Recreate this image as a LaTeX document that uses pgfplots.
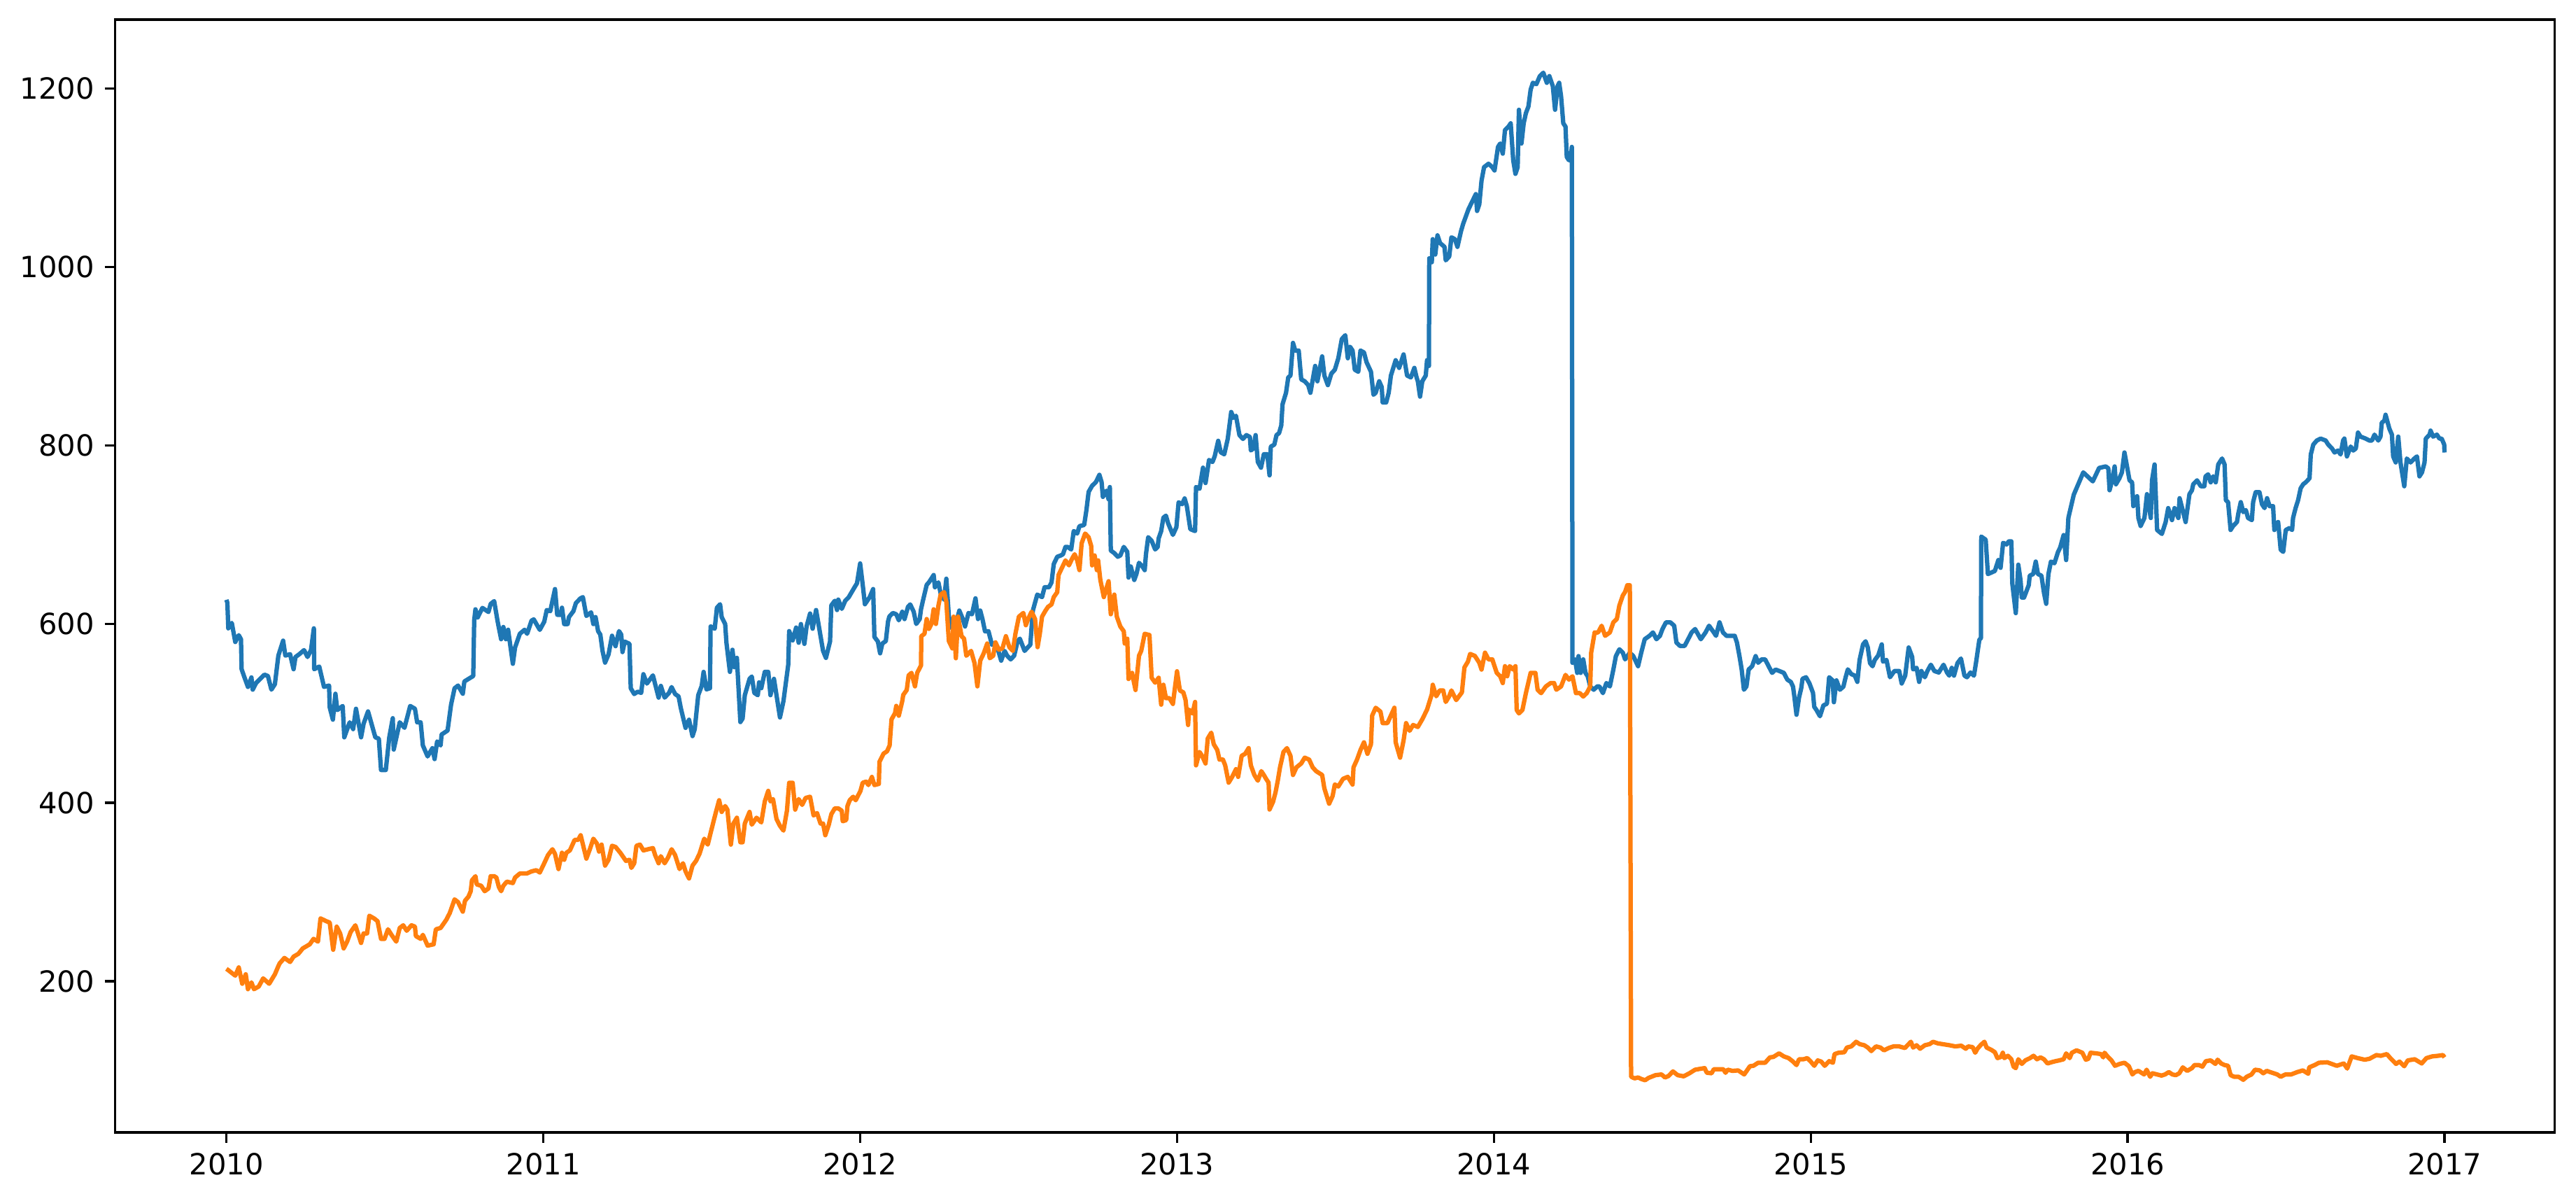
\documentclass[border=0pt]{standalone}
\usepackage{fontspec}
\setmainfont{DejaVu Sans}
\usepackage{pgfplots}
\pgfplotsset{compat=1.18}
\definecolor{tabblue}{HTML}{1F77B4}
\definecolor{taborange}{HTML}{FF7F0E}
\begin{document}
\begin{tikzpicture}
\begin{axis}[
  name=ax,
  scale only axis,
  width=836.8pt, height=381.6pt,
  xmin=2009.648, xmax=2017.347,
  ymin=30.5, ymax=1277.4,
  xtick={2010,2011,2012,2013,2014,2015,2016,2017},
  ytick={200,400,600,800,1000,1200},
  xticklabel style={/pgf/number format/1000 sep={}},
  yticklabel style={/pgf/number format/1000 sep={}},
  /pgf/number format/assume math mode=true,
  tick label style={font=\fontsize{10}{12}\selectfont, black},
  tick align=outside,
  xtick pos=bottom, ytick pos=left,
  major tick length=3.5pt,
  every tick/.style={black, line width=0.8pt},
  axis line style={black, line width=0.8pt},
  xticklabel shift=0pt, yticklabel shift=0pt,
  clip=true,
]
\addplot[color=tabblue, line width=1.5pt, line join=round] table {
2010.000 627.3
2010.003 624.0
2010.006 595.3
2010.017 601.4
2010.028 580.0
2010.039 587.6
2010.046 583.1
2010.048 549.5
2010.057 540.3
2010.068 529.7
2010.079 540.3
2010.083 526.6
2010.094 534.2
2010.120 543.4
2010.131 541.9
2010.142 526.6
2010.153 532.7
2010.164 564.8
2010.179 581.5
2010.186 564.8
2010.201 566.3
2010.212 549.5
2010.218 563.2
2010.230 566.3
2010.245 570.9
2010.256 563.2
2010.267 570.9
2010.276 595.3
2010.277 549.5
2010.293 552.5
2010.308 529.7
2010.324 531.2
2010.326 506.8
2010.336 493.0
2010.344 522.0
2010.350 503.7
2010.367 508.3
2010.372 473.2
2010.389 490.0
2010.400 482.4
2010.409 505.2
2010.425 473.2
2010.433 488.5
2010.447 502.2
2010.470 473.2
2010.481 471.7
2010.488 436.6
2010.503 436.6
2010.514 473.2
2010.525 494.6
2010.528 459.5
2010.547 490.0
2010.562 483.9
2010.580 508.3
2010.595 505.2
2010.602 490.0
2010.613 490.0
2010.620 464.1
2010.635 451.8
2010.650 461.0
2010.657 448.8
2010.665 468.6
2010.676 464.1
2010.679 476.3
2010.698 480.8
2010.709 509.8
2010.720 528.1
2010.731 531.2
2010.746 522.0
2010.751 535.8
2010.779 541.9
2010.782 604.4
2010.786 616.6
2010.793 607.5
2010.808 618.2
2010.827 613.6
2010.834 622.7
2010.845 625.8
2010.856 602.9
2010.867 583.1
2010.874 596.8
2010.882 583.1
2010.889 593.7
2010.904 555.6
2010.911 573.9
2010.926 589.2
2010.941 593.7
2010.949 589.2
2010.963 604.0
2010.970 605.3
2010.989 593.6
2011.003 602.7
2011.011 615.8
2011.022 614.5
2011.037 639.3
2011.044 610.5
2011.055 610.5
2011.059 618.4
2011.066 600.1
2011.077 600.1
2011.081 607.9
2011.095 614.5
2011.103 623.6
2011.117 628.8
2011.125 630.2
2011.136 609.2
2011.151 613.2
2011.158 600.1
2011.165 607.9
2011.173 592.2
2011.180 588.3
2011.187 570.0
2011.195 556.9
2011.206 566.1
2011.217 587.0
2011.228 575.3
2011.239 592.2
2011.246 588.3
2011.250 568.7
2011.257 580.5
2011.272 577.9
2011.276 528.2
2011.287 521.7
2011.298 524.3
2011.309 523.0
2011.316 543.9
2011.327 533.4
2011.346 542.6
2011.364 517.7
2011.371 530.8
2011.383 517.7
2011.397 523.0
2011.405 529.5
2011.416 521.7
2011.427 519.0
2011.434 506.0
2011.449 483.8
2011.460 492.9
2011.471 474.6
2011.478 482.4
2011.489 520.4
2011.500 530.8
2011.506 546.5
2011.515 526.9
2011.526 528.2
2011.528 597.5
2011.541 594.9
2011.548 618.4
2011.558 622.3
2011.563 607.9
2011.574 600.1
2011.578 579.2
2011.589 546.5
2011.597 571.3
2011.603 551.7
2011.611 562.2
2011.622 490.3
2011.629 494.2
2011.636 520.4
2011.651 538.7
2011.658 541.3
2011.666 523.0
2011.677 520.4
2011.681 534.7
2011.688 528.2
2011.699 546.5
2011.710 546.5
2011.717 520.4
2011.728 538.7
2011.747 495.5
2011.758 513.8
2011.773 554.3
2011.776 592.2
2011.787 581.8
2011.798 596.2
2011.806 579.2
2011.813 600.1
2011.824 577.9
2011.831 597.5
2011.842 611.9
2011.850 594.9
2011.861 615.8
2011.883 570.0
2011.892 562.2
2011.905 580.5
2011.909 621.0
2011.920 626.2
2011.927 615.8
2011.931 627.5
2011.942 617.1
2011.953 626.2
2011.964 630.2
2011.979 639.3
2011.990 645.8
2012.000 668.0
2012.008 644.5
2012.015 622.3
2012.030 630.2
2012.041 639.3
2012.045 585.7
2012.056 580.5
2012.063 567.3
2012.070 578.3
2012.081 581.0
2012.088 602.9
2012.092 608.4
2012.103 612.5
2012.114 611.1
2012.122 604.3
2012.133 613.9
2012.140 605.7
2012.151 619.4
2012.158 622.1
2012.169 613.9
2012.177 600.2
2012.188 605.7
2012.192 616.6
2012.199 627.6
2012.210 644.0
2012.217 646.8
2012.232 655.0
2012.236 641.3
2012.247 646.8
2012.254 634.4
2012.265 627.6
2012.272 650.9
2012.280 608.4
2012.291 594.7
2012.302 600.2
2012.313 615.2
2012.324 605.7
2012.331 597.4
2012.342 612.5
2012.353 611.1
2012.364 628.9
2012.372 605.7
2012.379 615.2
2012.386 605.7
2012.394 592.0
2012.405 592.0
2012.416 576.9
2012.427 578.3
2012.434 572.8
2012.445 559.1
2012.456 570.0
2012.464 564.6
2012.475 560.5
2012.486 564.6
2012.497 581.0
2012.504 583.7
2012.519 570.0
2012.526 572.8
2012.537 576.9
2012.545 615.2
2012.559 633.1
2012.574 630.3
2012.582 641.3
2012.596 641.3
2012.604 646.8
2012.611 667.3
2012.622 675.5
2012.633 676.9
2012.640 678.3
2012.648 686.5
2012.655 686.5
2012.666 683.7
2012.674 704.3
2012.685 701.5
2012.692 709.8
2012.707 711.1
2012.714 727.6
2012.721 748.1
2012.732 755.0
2012.744 759.1
2012.755 767.3
2012.762 759.1
2012.766 742.6
2012.777 749.5
2012.784 739.9
2012.788 753.6
2012.791 682.4
2012.802 679.6
2012.813 675.5
2012.821 676.9
2012.832 686.5
2012.843 681.0
2012.847 652.2
2012.854 664.6
2012.865 649.5
2012.872 656.3
2012.880 668.7
2012.891 664.6
2012.898 660.5
2012.902 678.3
2012.909 697.4
2012.920 693.3
2012.931 683.7
2012.939 686.5
2012.942 696.1
2012.950 704.3
2012.957 719.3
2012.965 721.5
2012.972 712.9
2012.987 700.0
2012.998 708.6
2013.005 736.5
2013.016 734.4
2013.024 740.8
2013.031 732.2
2013.042 706.4
2013.057 704.3
2013.060 753.7
2013.071 751.6
2013.082 775.3
2013.090 758.1
2013.101 783.9
2013.112 781.7
2013.119 788.2
2013.130 805.4
2013.138 792.5
2013.149 790.3
2013.160 807.5
2013.171 837.7
2013.178 831.2
2013.186 833.4
2013.197 811.8
2013.208 807.5
2013.219 811.8
2013.230 809.7
2013.233 794.6
2013.241 796.8
2013.248 811.8
2013.255 781.7
2013.265 775.3
2013.274 790.3
2013.285 790.3
2013.292 766.7
2013.296 798.9
2013.307 801.1
2013.314 811.8
2013.322 814.0
2013.329 822.6
2013.333 846.3
2013.344 859.2
2013.351 876.4
2013.358 878.5
2013.366 915.1
2013.373 906.5
2013.384 906.5
2013.392 874.2
2013.403 872.1
2013.414 867.8
2013.421 859.2
2013.436 889.3
2013.443 872.1
2013.458 900.0
2013.465 878.5
2013.476 867.8
2013.487 880.7
2013.498 885.0
2013.509 897.9
2013.520 919.4
2013.531 923.7
2013.539 897.9
2013.546 910.8
2013.554 906.5
2013.561 885.0
2013.572 882.8
2013.579 906.5
2013.590 904.4
2013.598 893.6
2013.612 882.8
2013.620 857.0
2013.627 859.2
2013.638 872.1
2013.646 865.6
2013.649 848.4
2013.660 848.4
2013.668 859.2
2013.675 878.5
2013.690 895.7
2013.701 887.1
2013.715 902.2
2013.726 878.5
2013.738 876.4
2013.749 887.1
2013.756 876.4
2013.760 872.1
2013.767 854.9
2013.774 872.1
2013.785 878.5
2013.789 895.7
2013.795 889.3
2013.796 1009.8
2013.804 1005.5
2013.807 1031.3
2013.815 1014.1
2013.822 1035.6
2013.830 1027.0
2013.844 1022.7
2013.848 1007.6
2013.859 1011.9
2013.866 1033.4
2013.877 1031.3
2013.885 1022.7
2013.896 1039.9
2013.903 1048.5
2013.920 1065.0
2013.943 1081.8
2013.947 1062.9
2013.954 1070.5
2013.961 1096.9
2013.969 1112.0
2013.983 1115.8
2013.995 1112.0
2014.002 1108.3
2014.013 1134.7
2014.020 1138.5
2014.028 1127.1
2014.035 1153.6
2014.046 1157.4
2014.053 1161.1
2014.061 1119.6
2014.068 1104.5
2014.075 1112.0
2014.079 1176.3
2014.087 1138.5
2014.094 1161.1
2014.101 1172.5
2014.109 1180.0
2014.116 1198.9
2014.123 1206.5
2014.134 1205.0
2014.145 1214.0
2014.156 1217.8
2014.167 1206.5
2014.175 1214.0
2014.186 1202.7
2014.193 1176.3
2014.201 1202.7
2014.206 1206.5
2014.212 1191.4
2014.219 1161.1
2014.226 1157.4
2014.230 1123.4
2014.237 1119.6
2014.245 1130.9
2014.246 1134.7
2014.248 556.7
2014.256 560.5
2014.263 545.4
2014.267 564.2
2014.274 545.4
2014.282 560.5
2014.289 545.4
2014.296 541.6
2014.304 530.2
2014.315 526.5
2014.326 530.2
2014.333 530.2
2014.344 522.7
2014.355 534.0
2014.366 530.2
2014.377 549.1
2014.385 564.2
2014.396 571.8
2014.407 568.0
2014.414 560.5
2014.429 568.0
2014.440 564.2
2014.455 552.9
2014.465 568.0
2014.476 583.1
2014.491 586.9
2014.502 590.7
2014.513 583.1
2014.524 586.9
2014.532 594.5
2014.543 602.0
2014.557 602.0
2014.569 598.2
2014.576 579.4
2014.587 575.6
2014.602 575.6
2014.613 583.1
2014.624 590.7
2014.635 594.5
2014.653 583.1
2014.668 590.7
2014.679 598.2
2014.694 590.7
2014.701 586.9
2014.712 602.0
2014.723 590.7
2014.734 586.9
2014.745 586.9
2014.760 586.9
2014.767 579.4
2014.775 564.2
2014.782 549.1
2014.789 526.5
2014.797 530.2
2014.804 549.1
2014.815 552.9
2014.826 564.2
2014.834 556.7
2014.845 560.5
2014.856 560.5
2014.867 552.9
2014.878 545.4
2014.889 549.1
2014.900 547.6
2014.915 545.4
2014.926 537.8
2014.937 535.3
2014.944 530.0
2014.948 519.5
2014.955 498.5
2014.963 517.8
2014.970 528.3
2014.974 538.8
2014.985 540.5
2014.996 533.5
2015.007 523.0
2015.011 507.3
2015.018 503.8
2015.029 496.8
2015.040 509.0
2015.051 510.8
2015.058 540.5
2015.069 537.0
2015.073 512.5
2015.081 537.0
2015.092 526.5
2015.103 530.0
2015.110 540.5
2015.117 549.3
2015.128 544.0
2015.139 542.3
2015.147 535.3
2015.154 559.8
2015.165 577.3
2015.173 580.8
2015.180 573.8
2015.187 556.3
2015.195 552.8
2015.202 559.8
2015.213 565.0
2015.224 577.3
2015.228 558.0
2015.239 559.8
2015.250 540.5
2015.264 547.5
2015.279 547.5
2015.287 533.5
2015.298 542.3
2015.309 573.8
2015.320 563.3
2015.323 549.3
2015.334 551.0
2015.342 535.3
2015.349 547.5
2015.360 540.5
2015.368 547.5
2015.379 554.5
2015.390 547.5
2015.404 545.8
2015.419 554.5
2015.430 545.8
2015.437 542.3
2015.445 551.0
2015.452 542.3
2015.463 556.3
2015.474 561.5
2015.485 542.3
2015.493 540.5
2015.504 545.8
2015.515 542.3
2015.522 558.0
2015.532 582.5
2015.537 584.3
2015.538 698.1
2015.552 694.6
2015.559 656.1
2015.570 657.8
2015.581 659.6
2015.592 671.8
2015.599 663.1
2015.607 691.1
2015.618 689.3
2015.625 692.8
2015.633 692.8
2015.636 645.6
2015.647 612.3
2015.655 666.6
2015.662 649.1
2015.666 629.8
2015.673 629.8
2015.688 643.8
2015.691 654.3
2015.702 656.1
2015.710 670.1
2015.717 656.1
2015.728 654.3
2015.736 635.1
2015.743 622.8
2015.750 656.1
2015.758 670.1
2015.769 668.3
2015.780 680.6
2015.787 685.8
2015.798 699.8
2015.806 671.8
2015.813 719.1
2015.830 745.0
2015.860 770.0
2015.890 760.0
2015.910 775.0
2015.931 776.7
2015.939 774.5
2015.943 750.0
2015.951 761.1
2015.959 776.7
2015.963 756.7
2015.974 763.4
2015.982 770.1
2015.990 792.3
2015.998 776.7
2016.006 761.1
2016.014 758.9
2016.018 732.2
2016.030 743.3
2016.034 718.9
2016.041 710.0
2016.053 718.9
2016.061 745.6
2016.073 718.9
2016.077 761.1
2016.085 778.9
2016.093 705.5
2016.108 701.1
2016.120 714.4
2016.128 730.0
2016.140 716.6
2016.148 730.0
2016.160 718.9
2016.164 741.1
2016.172 730.0
2016.183 714.4
2016.195 745.6
2016.203 750.0
2016.207 756.7
2016.219 761.1
2016.231 754.5
2016.242 754.5
2016.246 765.6
2016.254 767.8
2016.262 758.9
2016.270 765.6
2016.278 758.9
2016.286 778.9
2016.298 785.6
2016.306 778.9
2016.310 738.9
2016.317 736.7
2016.325 705.5
2016.333 710.0
2016.345 714.4
2016.349 723.3
2016.357 736.7
2016.365 725.5
2016.373 727.8
2016.380 718.9
2016.392 716.6
2016.396 736.7
2016.404 747.8
2016.416 747.8
2016.424 734.4
2016.432 730.0
2016.440 741.1
2016.448 732.2
2016.459 732.2
2016.463 705.5
2016.475 714.4
2016.483 683.3
2016.491 681.0
2016.499 705.5
2016.511 707.7
2016.519 705.5
2016.522 718.9
2016.530 730.0
2016.538 738.9
2016.546 752.2
2016.554 756.7
2016.562 758.9
2016.574 763.4
2016.578 790.1
2016.586 801.2
2016.597 805.7
2016.609 807.9
2016.625 805.7
2016.633 801.2
2016.645 796.8
2016.653 792.3
2016.664 794.5
2016.672 790.1
2016.680 805.7
2016.684 807.9
2016.692 787.9
2016.704 799.0
2016.712 794.5
2016.720 796.8
2016.727 814.6
2016.735 810.1
2016.751 807.9
2016.763 805.7
2016.771 805.7
2016.779 812.3
2016.791 805.7
2016.798 810.1
2016.802 825.7
2016.810 827.9
2016.814 834.6
2016.826 819.0
2016.834 812.3
2016.838 787.9
2016.846 781.2
2016.854 810.1
2016.861 781.2
2016.873 754.5
2016.881 785.6
2016.893 781.2
2016.905 785.6
2016.913 787.9
2016.921 765.6
2016.929 770.1
2016.937 781.2
2016.941 807.9
2016.953 812.3
2016.956 816.8
2016.964 810.1
2016.976 812.3
2016.984 807.9
2016.991 807.9
2016.999 801.2
2017.000 792.3
};
\addplot[color=taborange, line width=1.5pt, line join=round] table {
2010.000 213.8
2010.006 212.3
2010.017 209.2
2010.028 206.2
2010.039 215.4
2010.050 197.1
2010.061 207.7
2010.068 191.0
2010.079 198.6
2010.087 191.0
2010.102 194.0
2010.116 203.1
2010.135 197.1
2010.153 207.7
2010.164 216.9
2010.168 219.9
2010.183 226.0
2010.201 221.5
2010.212 227.5
2010.227 230.6
2010.241 236.7
2010.263 241.3
2010.275 247.4
2010.289 244.3
2010.297 270.3
2010.315 267.2
2010.326 265.7
2010.337 235.2
2010.348 261.1
2010.359 253.5
2010.370 236.7
2010.381 244.3
2010.392 255.0
2010.407 262.6
2010.425 242.8
2010.433 253.5
2010.444 253.5
2010.451 273.3
2010.466 270.3
2010.477 267.2
2010.488 247.4
2010.499 247.4
2010.510 258.1
2010.521 251.9
2010.536 244.3
2010.547 259.6
2010.558 262.6
2010.569 256.5
2010.584 262.6
2010.595 261.1
2010.598 250.5
2010.613 247.4
2010.620 251.9
2010.635 239.8
2010.654 241.3
2010.661 258.1
2010.676 259.6
2010.694 268.8
2010.705 276.4
2010.720 291.6
2010.731 288.6
2010.746 277.9
2010.753 290.1
2010.764 294.7
2010.771 300.8
2010.775 313.0
2010.786 317.6
2010.790 308.4
2010.804 306.9
2010.815 300.8
2010.827 303.8
2010.834 317.6
2010.845 317.6
2010.852 316.1
2010.860 305.4
2010.867 300.8
2010.874 306.9
2010.885 311.5
2010.904 309.9
2010.911 316.1
2010.926 320.6
2010.948 320.6
2010.963 323.0
2010.978 324.3
2010.989 321.7
2011.003 332.1
2011.015 341.3
2011.029 347.8
2011.037 342.6
2011.048 325.6
2011.059 343.9
2011.066 336.0
2011.073 343.9
2011.084 346.5
2011.099 358.3
2011.110 358.3
2011.118 363.5
2011.136 337.3
2011.147 347.8
2011.158 359.6
2011.169 354.3
2011.176 345.2
2011.184 353.0
2011.195 329.5
2011.206 336.0
2011.217 351.7
2011.228 350.4
2011.243 343.9
2011.261 334.7
2011.272 336.0
2011.278 326.9
2011.287 332.1
2011.294 351.7
2011.305 353.0
2011.316 346.5
2011.331 347.8
2011.346 349.1
2011.353 341.3
2011.364 332.1
2011.371 340.0
2011.383 332.1
2011.394 338.7
2011.405 347.8
2011.416 341.3
2011.430 325.6
2011.441 332.1
2011.449 323.0
2011.460 315.1
2011.471 329.5
2011.482 334.7
2011.493 342.6
2011.508 359.6
2011.519 353.0
2011.530 368.7
2011.544 388.3
2011.555 402.7
2011.563 389.6
2011.574 396.2
2011.581 392.2
2011.592 353.0
2011.600 376.6
2011.611 383.1
2011.622 355.6
2011.629 355.6
2011.636 376.6
2011.651 389.6
2011.658 375.3
2011.673 383.1
2011.688 377.9
2011.699 401.4
2011.710 413.2
2011.717 401.4
2011.725 404.0
2011.736 381.8
2011.747 374.0
2011.758 368.7
2011.769 391.0
2011.776 422.3
2011.787 422.3
2011.795 392.2
2011.806 404.0
2011.817 397.5
2011.828 405.3
2011.842 406.6
2011.853 385.7
2011.864 388.3
2011.875 376.6
2011.883 376.6
2011.890 363.5
2011.901 375.2
2011.909 387.0
2011.920 393.6
2011.931 393.6
2011.942 391.0
2011.945 379.2
2011.956 380.5
2011.960 396.2
2011.967 402.7
2011.978 406.6
2011.986 402.7
2012.001 413.2
2012.008 422.3
2012.019 423.6
2012.026 419.7
2012.037 428.8
2012.045 419.7
2012.059 421.0
2012.061 445.8
2012.074 455.0
2012.085 457.6
2012.093 464.1
2012.099 493.3
2012.110 500.2
2012.114 508.4
2012.122 497.4
2012.133 513.9
2012.136 520.7
2012.147 526.2
2012.153 542.6
2012.162 545.4
2012.173 530.3
2012.180 545.4
2012.192 553.6
2012.193 586.5
2012.203 589.2
2012.210 605.7
2012.217 594.7
2012.225 600.2
2012.232 616.6
2012.239 600.2
2012.247 620.7
2012.254 633.1
2012.265 635.8
2012.272 624.8
2012.280 581.0
2012.291 572.8
2012.295 608.4
2012.302 561.8
2012.309 608.4
2012.320 586.5
2012.328 583.7
2012.335 564.6
2012.350 570.0
2012.361 556.3
2012.370 530.3
2012.379 559.1
2012.390 567.3
2012.401 578.3
2012.409 561.8
2012.420 564.6
2012.427 579.6
2012.438 571.4
2012.449 572.8
2012.460 586.5
2012.471 574.2
2012.482 570.0
2012.490 589.2
2012.501 608.4
2012.515 612.5
2012.523 598.8
2012.530 605.7
2012.541 613.9
2012.552 605.7
2012.560 574.2
2012.567 589.2
2012.574 608.4
2012.585 615.2
2012.593 619.4
2012.604 622.1
2012.611 630.3
2012.622 635.8
2012.626 655.0
2012.637 663.2
2012.648 671.4
2012.659 665.9
2012.670 674.2
2012.677 678.3
2012.685 671.4
2012.692 660.5
2012.699 690.6
2012.710 701.5
2012.721 697.4
2012.729 687.8
2012.732 665.9
2012.740 676.9
2012.747 660.5
2012.751 671.4
2012.758 649.5
2012.769 630.3
2012.777 639.9
2012.784 648.1
2012.791 611.1
2012.802 633.1
2012.810 608.4
2012.821 597.4
2012.832 592.0
2012.835 578.3
2012.843 583.7
2012.847 538.5
2012.858 545.4
2012.869 526.2
2012.880 564.6
2012.887 570.0
2012.898 589.2
2012.913 587.8
2012.920 539.9
2012.931 534.4
2012.942 539.9
2012.950 509.8
2012.957 532.1
2012.965 517.1
2012.976 517.1
2012.987 510.6
2013.000 547.2
2013.009 525.7
2013.020 523.5
2013.027 514.9
2013.035 487.0
2013.038 504.2
2013.049 499.9
2013.057 512.8
2013.060 441.8
2013.071 456.8
2013.079 452.5
2013.090 443.9
2013.097 471.9
2013.108 478.4
2013.116 465.4
2013.127 459.0
2013.134 448.2
2013.145 448.2
2013.152 441.8
2013.163 422.4
2013.174 428.9
2013.186 437.5
2013.193 428.9
2013.204 452.5
2013.215 454.7
2013.226 461.1
2013.233 441.8
2013.244 431.0
2013.255 424.6
2013.266 435.3
2013.274 431.0
2013.281 426.7
2013.289 422.4
2013.292 392.3
2013.303 400.9
2013.311 411.7
2013.318 424.6
2013.325 439.6
2013.336 456.8
2013.347 461.1
2013.358 452.5
2013.366 431.0
2013.377 439.6
2013.392 443.9
2013.403 450.4
2013.417 448.2
2013.428 439.6
2013.439 435.3
2013.458 431.0
2013.465 416.0
2013.480 398.8
2013.491 407.4
2013.498 420.3
2013.509 418.1
2013.524 426.7
2013.539 428.9
2013.554 420.3
2013.557 439.6
2013.568 448.2
2013.579 459.0
2013.590 467.6
2013.601 454.7
2013.612 465.4
2013.616 497.7
2013.627 506.3
2013.642 502.0
2013.649 489.1
2013.664 489.1
2013.675 497.7
2013.686 506.3
2013.690 467.6
2013.704 450.4
2013.715 469.8
2013.723 489.1
2013.734 480.5
2013.745 487.0
2013.760 484.8
2013.774 493.4
2013.789 504.2
2013.804 521.4
2013.807 532.1
2013.818 519.2
2013.829 525.7
2013.840 525.7
2013.848 512.8
2013.859 519.2
2013.866 525.7
2013.881 514.9
2013.899 523.5
2013.907 551.5
2013.918 558.0
2013.925 566.6
2013.940 564.4
2013.954 556.7
2013.961 549.1
2013.972 568.0
2013.983 560.5
2013.995 560.5
2014.002 552.9
2014.009 545.4
2014.020 541.6
2014.028 534.0
2014.035 552.9
2014.042 541.6
2014.050 552.9
2014.061 549.1
2014.068 552.9
2014.072 503.8
2014.079 500.0
2014.090 503.8
2014.101 522.7
2014.116 545.4
2014.131 545.4
2014.138 526.5
2014.149 522.7
2014.164 530.2
2014.179 534.0
2014.190 534.0
2014.197 526.5
2014.212 530.2
2014.226 543.1
2014.237 537.8
2014.248 541.6
2014.259 522.7
2014.271 522.7
2014.282 518.9
2014.293 522.7
2014.304 530.2
2014.307 568.0
2014.318 590.7
2014.329 590.7
2014.340 598.2
2014.351 586.9
2014.366 590.7
2014.377 602.0
2014.388 605.8
2014.396 620.9
2014.407 632.2
2014.414 636.0
2014.421 643.6
2014.429 643.6
2014.433 92.9
2014.444 91.1
2014.455 92.1
2014.466 90.3
2014.477 89.0
2014.488 91.6
2014.510 94.7
2014.529 95.5
2014.540 92.1
2014.551 93.7
2014.565 98.9
2014.580 94.7
2014.599 93.4
2014.617 96.8
2014.635 100.8
2014.665 102.6
2014.672 97.4
2014.687 96.8
2014.694 101.3
2014.724 101.3
2014.731 97.4
2014.738 100.8
2014.753 99.5
2014.771 100.0
2014.790 95.5
2014.808 104.7
2014.819 105.2
2014.834 108.6
2014.856 108.6
2014.871 114.6
2014.882 115.1
2014.900 119.1
2014.915 115.7
2014.930 113.8
2014.944 109.9
2014.955 106.0
2014.963 112.5
2014.977 112.5
2014.989 113.8
2015.000 109.9
2015.011 105.2
2015.022 111.2
2015.033 109.9
2015.044 105.2
2015.058 110.4
2015.070 108.6
2015.075 118.3
2015.088 119.8
2015.106 120.4
2015.114 125.6
2015.128 126.9
2015.143 132.1
2015.154 129.5
2015.169 128.2
2015.180 125.6
2015.191 121.7
2015.206 126.9
2015.220 125.6
2015.231 122.5
2015.246 125.1
2015.261 126.9
2015.279 126.9
2015.297 125.1
2015.316 132.1
2015.323 125.6
2015.334 128.2
2015.345 124.3
2015.360 128.2
2015.375 129.5
2015.386 132.1
2015.401 130.3
2015.415 129.5
2015.438 128.2
2015.456 126.9
2015.475 127.7
2015.489 124.3
2015.497 126.9
2015.511 126.1
2015.519 119.8
2015.526 124.3
2015.537 128.7
2015.548 132.1
2015.555 125.6
2015.570 123.0
2015.581 120.4
2015.589 113.8
2015.600 115.1
2015.606 119.8
2015.611 113.8
2015.622 116.4
2015.633 112.5
2015.640 104.2
2015.647 102.6
2015.655 112.5
2015.666 107.3
2015.677 111.2
2015.692 113.8
2015.703 116.4
2015.714 112.5
2015.725 114.6
2015.736 112.5
2015.747 107.8
2015.762 109.4
2015.773 110.4
2015.784 111.2
2015.798 112.5
2015.806 119.1
2015.817 113.8
2015.824 119.8
2015.839 122.5
2015.857 119.8
2015.868 112.0
2015.876 113.0
2015.883 119.8
2015.901 119.1
2015.916 118.3
2015.923 114.6
2015.927 119.8
2015.938 115.1
2015.949 111.2
2015.960 105.2
2015.975 107.3
2015.990 108.6
2016.004 104.7
2016.015 95.5
2016.023 98.1
2016.034 99.5
2016.052 95.5
2016.060 100.8
2016.071 92.9
2016.078 96.8
2016.093 95.5
2016.107 94.2
2016.118 95.5
2016.130 98.1
2016.141 95.5
2016.152 94.7
2016.163 96.8
2016.174 103.4
2016.188 99.5
2016.203 102.6
2016.211 106.0
2016.225 106.0
2016.236 104.2
2016.247 110.4
2016.262 111.2
2016.277 107.3
2016.284 112.0
2016.295 107.8
2016.306 106.0
2016.317 105.2
2016.325 94.7
2016.336 92.9
2016.350 92.9
2016.365 89.5
2016.376 92.9
2016.391 95.5
2016.402 100.8
2016.417 100.0
2016.428 96.8
2016.439 99.5
2016.450 98.1
2016.461 96.8
2016.472 95.5
2016.483 92.9
2016.498 95.5
2016.516 95.5
2016.535 98.1
2016.553 100.0
2016.570 96.3
2016.573 103.4
2016.590 106.0
2016.604 108.6
2016.630 109.1
2016.660 105.2
2016.682 107.8
2016.693 102.1
2016.707 115.7
2016.726 113.8
2016.748 112.0
2016.763 113.0
2016.785 117.2
2016.799 116.4
2016.818 118.3
2016.829 113.8
2016.847 107.3
2016.858 109.9
2016.873 104.7
2016.884 111.2
2016.906 112.5
2016.928 107.8
2016.943 113.8
2016.961 115.7
2016.980 116.4
2016.995 117.2
2017.000 114.6
};
\end{axis}
\pgfresetboundingbox
\path[use as bounding box] ([xshift=-39.4pt,yshift=-23.5pt]ax.south west) rectangle ([xshift=7.4pt,yshift=6.7pt]ax.north east);
\end{tikzpicture}
\end{document}
